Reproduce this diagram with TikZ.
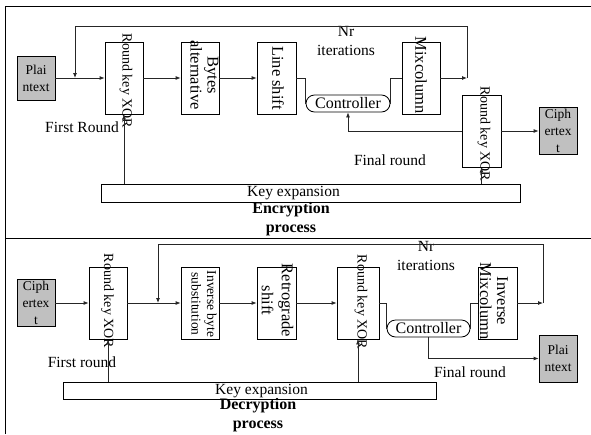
\documentclass[tikz,border=0pt]{standalone}
\usepackage{fontspec}
\setmainfont{Liberation Serif}
\usetikzlibrary{arrows.meta}
\definecolor{iogray}{RGB}{192,192,192}
\tikzset{
  blk/.style={draw, line width=0.8pt, minimum width=38pt, minimum height=72pt, inner sep=0pt},
  io/.style={draw, fill=iogray, line width=0.8pt, minimum width=38pt, minimum height=47pt,
    inner sep=0pt, align=center, font=\fontsize{13.5}{17}\selectfont},
  ctl/.style={draw, line width=0.8pt, rounded corners=8.5pt, minimum width=84pt,
    minimum height=17pt, inner sep=0pt, font=\fontsize{16}{19}\selectfont},
  kbox/.style={draw, line width=0.8pt, minimum height=18pt, inner sep=0pt},
  vtxt/.style={rotate=-90, align=center, inner sep=0pt, font=\fontsize{16.5}{17}\selectfont},
  xtxt/.style={rotate=-90, inner sep=0pt, font=\fontsize{14}{16}\selectfont},
  lbl/.style={inner sep=0pt, align=center, font=\fontsize{15.5}{19}\selectfont},
  ttl/.style={inner sep=0pt, align=center, font=\fontsize{16}{19}\selectfont\bfseries},
  ln/.style={line width=0.8pt, draw=black!85},
  arr/.style={-{Latex[length=5pt,width=4pt]}},
  frame/.style={line width=0.9pt}
}
\begin{document}
\begin{tikzpicture}[x=1pt,y=-1pt]
\useasboundingbox (0,0) rectangle (591,434);

% outer frame and separator between the two processes
\draw[frame] (5,434) -- (5,6) -- (591,6);
\draw[frame] (5,238) -- (591,238);

% ---------------- Encryption ----------------
\node[io, minimum height=44pt] (ptA) at (36,78) {Plai\\ntext};
\node[blk] (xorA) at (124,78) {};
\node[xtxt] (xorAt) at (126,81) {Round key XOR};
\node[blk] (bytA) at (200,78) {};
\node[vtxt] (bytAt) at (204.5,75) {Bytes\\alternative};
\node[blk, minimum width=39pt] (lshA) at (276.5,78) {};
\node[vtxt] (lshAt) at (278,78) {Line shift};
\node[ctl] (ctlA) at (348,103.5) {Controller};
\node[blk] (mixA) at (421,78) {};
\node[vtxt] (mixAt) at (421,75) {Mixcolumn};
\node[blk, minimum width=39pt] (xorB) at (481.5,131) {};
\node[xtxt] (xorBt) at (484,134) {Round key XOR};
\node[io] (ctA) at (558,131) {Ciph\\ertex\\t};
\node[kbox, minimum width=419pt] (kxA) at (310.5,193) {};
\node[lbl] (kxAt) at (293.5,193) {Key expansion};

\node[lbl] (frA) at (82,127) {First Round};
\node[lbl] (fnA) at (390,160) {Final round};
\node[lbl] (nrA) at (346,40.5) {Nr\\iterations};
\node[ttl] (encA) at (291,219) {Encryption\\process};

\coordinate (jA) at (75,78);
\coordinate (cA) at (467,78);
\coordinate (tA) at (75,26);

\draw[ln,arr] (ptA.east) -- (xorA.west);
\draw[ln,arr] (xorA.east) -- (bytA.west);
\draw[ln,arr] (bytA.east) -- (lshA.west);
\draw[ln] (lshA.east) -| (ctlA.west);
\draw[ln] (ctlA.east) |- (mixA.west);
\draw[ln,arr] (mixA.east) -- (cA);
\draw[ln,arr] (cA) |- (tA) -- (jA);
\draw[ln,arr] (xorB.west) -| (ctlA.south);
\draw[ln,arr] (xorB.east) -- (ctA.west);
\draw[ln,arr] (kxA.north -| xorA.south) -- (xorA.south);
\draw[ln,arr] (kxA.north -| xorB.south) -- (xorB.south);

% ---------------- Decryption ----------------
\node[io] (ctB) at (36,303) {Ciph\\ertex\\t};
\node[blk] (xorC) at (108,303) {};
\node[xtxt] (xorCt) at (107.5,301) {Round key XOR};
\node[blk] (ibsB) at (200,303) {};
\node[vtxt, font=\fontsize{13.5}{15.5}\selectfont] (ibsBt) at (204,304) {Inverse byte\\substitution};
\node[blk, minimum width=39pt] (rshB) at (276.5,303) {};
\node[vtxt, font=\fontsize{16.5}{20}\selectfont] (rshBt) at (277.5,300.5) {Retrograde\\shift};
\node[blk, minimum width=42pt] (xorD) at (358,303) {};
\node[xtxt] (xorDt) at (361,302) {Round key XOR};
\node[ctl, minimum width=83pt] (ctlB) at (428.5,328.5) {Controller};
\node[blk, minimum width=39pt] (imxB) at (497.5,303) {};
\node[vtxt] (imxBt) at (494,301) {Inverse\\Mixcolumn};
\node[io] (ptB) at (558,358.5) {Plai\\ntext};
\node[kbox, minimum width=373pt, minimum height=17pt] (kxB) at (249.5,390.5) {};
\node[lbl] (kxBt) at (261.5,391) {Key expansion};

\node[lbl] (frB) at (82,362) {First round};
\node[lbl] (fnB) at (470,372.5) {Final round};
\node[lbl] (nrB) at (426,256) {Nr\\iterations};
\node[ttl] (decB) at (258,415.5) {Decryption\\process};

\coordinate (jB) at (158,303);
\coordinate (cB) at (543,303);
\coordinate (tB) at (158,244);

\draw[ln,arr] (ctB.east) -- (xorC.west);
\draw[ln,arr] (xorC.east) -- (ibsB.west);
\draw[ln,arr] (ibsB.east) -- (rshB.west);
\draw[ln,arr] (rshB.east) -- (xorD.west);
\draw[ln] (xorD.east) -| (ctlB.west);
\draw[ln] (ctlB.east) |- (imxB.west);
\draw[ln,arr] (imxB.east) -- (cB);
\draw[ln,arr] (cB) |- (tB) -- (jB);
\draw[ln,arr] (ctlB.south) |- (ptB.west);
\draw[ln,arr] (kxB.north -| xorC.south) -- (xorC.south);
\draw[ln,arr] (kxB.north -| xorD.south) -- (xorD.south);
\end{tikzpicture}
\end{document}
